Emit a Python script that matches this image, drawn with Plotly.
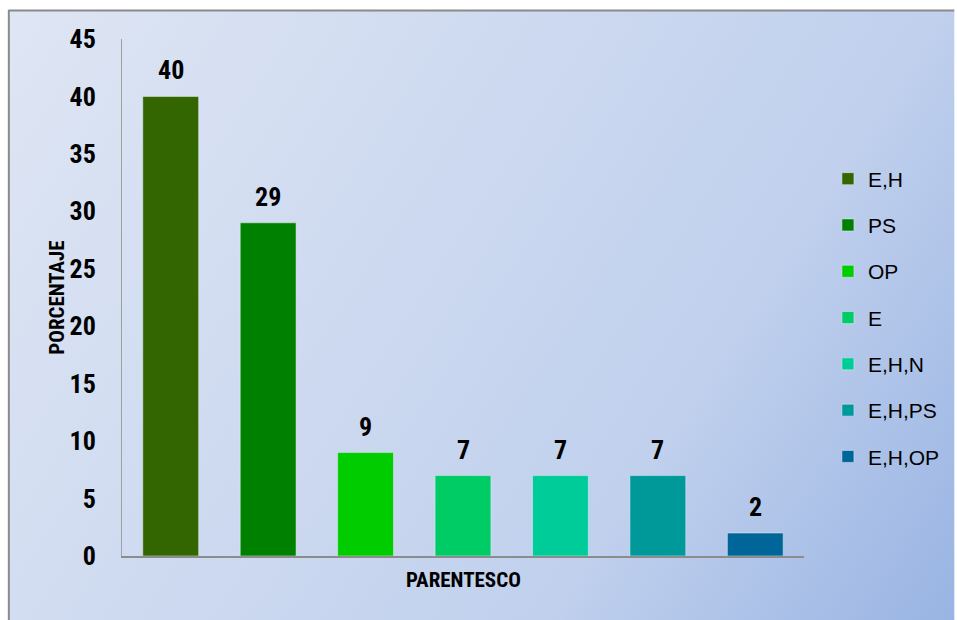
import base64
import plotly.graph_objects as go

# datos del grafico
categorias = ["E,H", "PS", "OP", "E", "E,H,N", "E,H,PS", "E,H,OP"]
porcentajes = [40, 29, 9, 7, 7, 7, 2]
colores = ["#336600", "#008000", "#00CC00", "#00CC66", "#00CC99", "#009999", "#006699"]
ticks_y = [0, 5, 10, 15, 20, 25, 30, 35, 40, 45]

W, H = 957, 620
ml, mr, mt, mb = 122, 151, 39, 64
pw, ph = W - ml - mr, H - mt - mb

def px_x(p):
    return (p - ml) / pw

def px_y(p):
    return (H - mb - p) / ph

NARROW = "Liberation Sans Narrow, Arial Narrow, Roboto Condensed, DejaVu Sans Condensed, sans-serif"
NORMAL = "Liberation Sans, Arial, sans-serif"

# fondo degradado + borde como svg
svg = (
    '<svg xmlns="http://www.w3.org/2000/svg" width="957" height="620">'
    '<defs><linearGradient id="g" gradientUnits="userSpaceOnUse" x1="0" y1="0" x2="957" y2="620">'
    '<stop offset="0" stop-color="#dfe6f4"/>'
    '<stop offset="0.3" stop-color="#d2ddf1"/>'
    '<stop offset="0.7" stop-color="#c0d0ed"/>'
    '<stop offset="1" stop-color="#99b4e3"/>'
    '</linearGradient></defs>'
    '<rect width="957" height="620" fill="#ffffff"/>'
    '<rect x="8" y="10" width="949" height="610" fill="url(#g)"/>'
    '<line x1="8.5" y1="10" x2="8.5" y2="620" stroke="#8a8a8a" stroke-width="2"/>'
    '<line x1="8" y1="10.5" x2="957" y2="10.5" stroke="#8a8a8a" stroke-width="2"/>'
    '</svg>'
)
fondo = "data:image/svg+xml;base64," + base64.b64encode(svg.encode()).decode()

fig = go.Figure()
for i, (cat, val, col) in enumerate(zip(categorias, porcentajes, colores)):
    fig.add_trace(go.Bar(
        x=[i], y=[val], name=cat, marker_color=col, width=0.573,
        legendgroup=cat, showlegend=True,
    ))
    fig.add_annotation(
        x=i, y=val, text="<b>%d</b>" % val, showarrow=False,
        xanchor="center", yanchor="bottom", yshift=9,
        font=dict(family=NARROW, size=26, color="black"),
    )

fig.add_annotation(
    x=0.5, y=px_y(580), xref="paper", yref="paper", text="<b>PARENTESCO</b>",
    xanchor="center", yanchor="middle",
    showarrow=False, font=dict(family=NARROW, size=21, color="black"),
)
fig.add_annotation(
    x=px_x(56), y=0.5, xref="paper", yref="paper", text="<b>PORCENTAJE</b>",
    xanchor="center", yanchor="middle",
    showarrow=False, textangle=-90, font=dict(family=NARROW, size=21, color="black"),
)

fig.update_layout(
    width=W, height=H,
    margin=dict(l=ml, r=mr, t=mt, b=mb),
    barmode="overlay",
    paper_bgcolor="white",
    plot_bgcolor="white",
    images=[dict(source=fondo, xref="paper", yref="paper",
                 x=px_x(0), y=px_y(0), sizex=W / pw, sizey=H / ph,
                 xanchor="left", yanchor="top", sizing="stretch", layer="below")],
    xaxis=dict(range=[-0.5, 6.5], showticklabels=False, showgrid=False,
               zeroline=False, showline=True, linecolor="#8c8c8c", linewidth=2,
               ticks=""),
    yaxis=dict(range=[0, 45], tickvals=ticks_y, showgrid=False, zeroline=False,
               showline=True, linecolor="#a0a0a0", linewidth=1, ticks="",
               ticklabelstandoff=20,
               tickfont=dict(family=NARROW, size=26, color="black", weight="bold")),
    legend=dict(x=px_x(830), y=px_y(318), xanchor="left", yanchor="middle",
                bgcolor="rgba(0,0,0,0)", tracegroupgap=16,
                font=dict(family=NORMAL, size=21, color="black")),
    showlegend=True,
)

fig.write_html("out.html", config={"displayModeBar": False},
               post_script="document.body.style.margin='0px';document.body.style.overflow='hidden';")
